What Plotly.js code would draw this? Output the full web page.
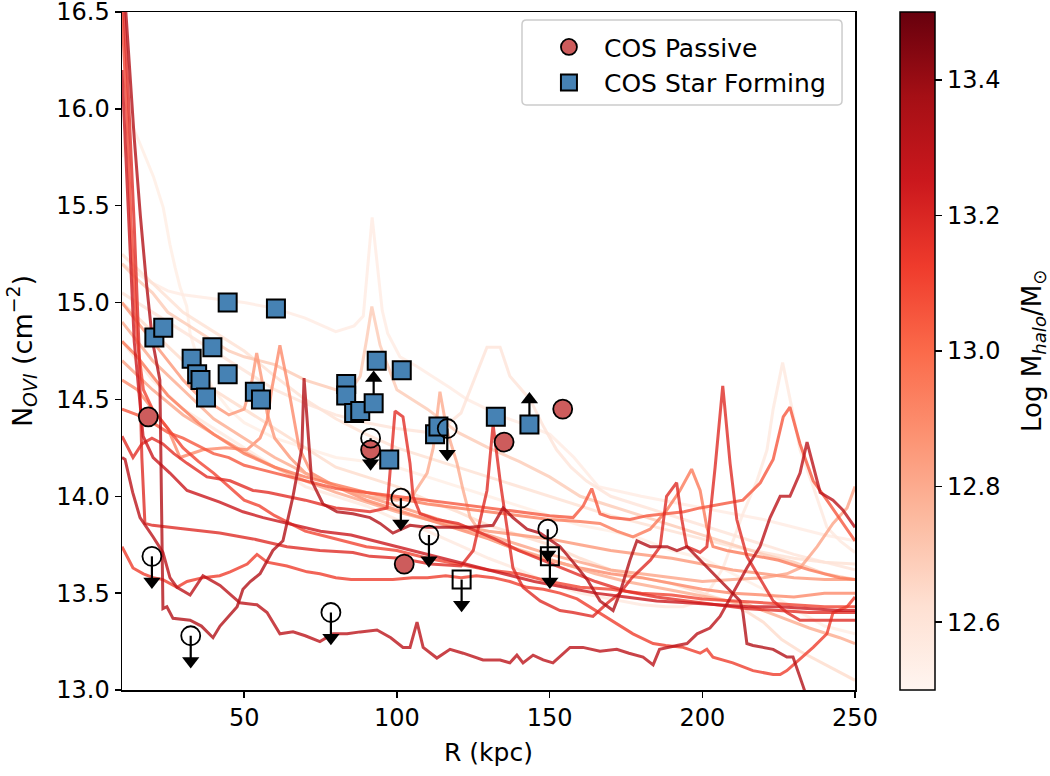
<!DOCTYPE html>
<html>
<head>
<meta charset="utf-8">
<script src="https://cdn.plot.ly/plotly-3.0.1.min.js"></script>
<style>
  html, body { margin: 0; padding: 0; background: #fff; }
  #chart { width: 1050px; height: 776px; }
</style>
</head>
<body>
<div id="chart"></div>
<script>
// ---- Simulated O VI column density profiles: [R (kpc), log N_OVI] ----
const profileA = [[10,16.8],[12,16.3],[14,15.85],[16,15.45],[18,15.1],[20,14.8],[22.4,14.6],[23.4,13.42],[24.7,13.43],[26.7,13.37],[32.3,13.36],[36,13.33],[39.8,13.27],[42.1,13.33],[45,13.38],[47.7,13.43],[49.6,13.52],[52,13.56],[55.2,13.6],[59.4,13.72],[62.7,13.77],[66,14.0],[68.9,14.25],[69.6,14.61],[72.1,14.08],[75.8,13.96],[80.4,13.92],[85.6,13.91],[91.2,13.89],[94.5,13.86],[98.7,13.81],[104.3,13.85],[109.9,13.84],[116.4,13.84],[124,13.84],[131.5,13.85],[134.8,13.94],[138,13.89],[142.6,13.83],[146.9,13.81],[153.4,13.74],[157.7,13.66],[162.3,13.57],[166.5,13.46],[170.8,13.41],[173,13.5],[176.3,13.67],[178.6,13.77],[182.9,13.74],[188.5,13.74],[191.7,13.72],[195,13.74],[199.3,13.67],[203.5,13.6],[208.1,13.53],[212.4,13.46],[213.3,13.4],[214.6,13.24],[216.6,13.23],[223.2,13.21],[227.7,13.17],[229.7,13.17],[233,13.02],[236,12.88]];
const profileB = [[10,14.2],[11,14.19],[13.5,14.02],[15.9,13.89],[20.2,13.79],[23.4,13.71],[25.7,13.58],[28,13.53],[32.3,13.49],[36.5,13.59],[42.1,13.54],[48.6,13.45],[54.2,13.44],[57.5,13.4],[61.7,13.29],[66,13.3],[70,13.28],[74.8,13.25],[79.1,13.29],[83.7,13.29],[88,13.3],[93.5,13.31],[98,13.27],[102,13.22],[104.3,13.22],[106.6,13.35],[108.6,13.22],[113.1,13.165],[117.4,13.21],[121.7,13.19],[128.2,13.155],[133.8,13.155],[137,13.14],[139.3,13.18],[141.3,13.14],[144.6,13.18],[147.9,13.155],[151.1,13.14],[156.7,13.22],[160.9,13.22],[166.5,13.2],[172,13.21],[176,13.19],[180.6,13.17],[183.9,13.13],[186,13.21],[191.7,13.23],[195,13.24],[198.3,13.29],[202.5,13.32],[205.8,13.38],[210,13.5],[214.6,13.63],[218.9,13.74],[222.2,13.89],[225.5,14.0],[228.7,14.0],[232,14.12],[234.3,14.28],[238.6,14.02],[242.8,13.98],[246,13.93],[250,13.84]];
const profileC = [[10,13.74],[13.6,13.63],[17,13.6],[20.2,13.58],[23.4,13.57],[28,13.53],[31.3,13.56],[36.5,13.58],[42,13.59],[45.4,13.61],[51,13.65],[54.2,13.7],[57.5,13.66],[64,13.64],[70.6,13.61],[74.8,13.6],[80,13.58],[85,13.57],[91,13.57],[98.7,13.57],[105,13.58],[110,13.58],[116,13.59],[121,13.58],[126,13.59],[131.5,13.58],[137,13.56],[142.6,13.53],[148,13.52],[153.4,13.5],[159,13.47],[164.2,13.42],[170,13.36],[177.3,13.29],[183.9,13.24],[188,13.23],[193.7,13.22],[199.3,13.19],[201.5,13.21],[203.5,13.17],[210,13.14],[216.6,13.1],[223.2,13.08],[225.5,13.08],[227.7,13.1],[232,13.16],[236.3,13.22],[240.8,13.29],[242.8,13.4],[247.4,13.43],[250,13.48]];
const profileD = [[10,14.31],[13.6,14.2],[16.5,14.27],[19.8,14.3],[23.4,14.27],[27,14.22],[31.3,14.17],[37.8,14.1],[45.4,14.08],[52.9,14.03],[58,14.02],[64,14.0],[70,13.98],[74.8,13.96],[80,13.94],[85.6,13.93],[91.2,13.92],[96.8,13.94],[99.4,14.44],[102,14.41],[104.3,14.17],[105.3,14.0],[107.6,13.91],[113,13.88],[120,13.86],[126,13.82],[132,13.78],[140,13.72],[148,13.67],[156,13.62],[165,13.56],[175,13.51],[185,13.48],[195,13.46],[205,13.44],[215,13.42],[225,13.41],[235,13.4],[245,13.4],[250,13.4]];
const profileE = [[10,16.7],[12,16.1],[14,15.4],[15.5,14.8],[16.5,14.2],[17.5,13.86],[20,13.85],[25,13.84],[31.3,13.83],[42,13.81],[52.9,13.78],[64,13.74],[74.8,13.72],[85.6,13.71],[91.2,13.69],[101,13.68],[111,13.65],[121,13.64],[125,13.72],[129.5,14.03],[131.5,14.37],[133.8,14.08],[136,13.83],[138,13.63],[141.3,13.53],[146.9,13.46],[153.4,13.41],[157.7,13.4],[164.2,13.38],[169,13.45],[173,13.5],[177,13.58],[183,13.67],[186.2,13.74],[188.3,14.0],[191.6,14.07],[193.3,13.88],[194.9,13.74],[199.3,13.71],[201.5,13.74],[204.2,14.15],[206.7,14.57],[209.1,14.17],[211.3,13.88],[214.6,13.69],[219,13.57],[223.2,13.46],[227.7,13.4],[232,13.36],[240,13.36],[250,13.36]];
const profileF = [[10,14.45],[15,14.42],[20,14.38],[25,14.33],[30,14.3],[35,14.26],[40,14.22],[45,14.2],[50,14.16],[55,14.14],[60,14.12],[70,14.08],[80,14.04],[90,14.02],[100,14.0],[110,13.98],[120,13.96],[130,13.94],[140,13.92],[150,13.9],[157.7,13.89],[161,13.95],[163.8,14.04],[166.5,13.91],[170,13.89],[176.3,13.88],[182,13.9],[188.4,13.91],[194,13.92],[199.3,13.94],[206,13.96],[213.3,13.98],[219,14.07],[223.2,14.19],[226.5,14.41],[228.7,14.46],[232,14.27],[236.3,14.08],[240.8,13.98],[245.1,13.88],[250,13.77]];
const profileG = [[10,14.8],[15,14.72],[20,14.62],[25,14.52],[30,14.45],[35,14.38],[40,14.32],[45,14.27],[50,14.22],[60,14.15],[70,14.1],[80,14.06],[90,14.02],[100,13.99],[110,13.96],[120,13.94],[130,13.92],[140,13.9],[150,13.88],[160,13.87],[166.5,13.86],[172,13.82],[177.3,13.79],[182.9,13.83],[188,13.92],[192.7,14.03],[196.5,14.14],[199.3,14.03],[201.5,13.84],[203.5,13.74],[208,13.72],[215,13.7],[225,13.67],[235,13.62],[245,13.58],[250,13.57]];
const profileH = [[10,16.5],[11.5,16.0],[13,15.4],[15,14.8],[17,14.55],[20,14.45],[25,14.35],[30,14.25],[35,14.18],[40,14.12],[45,14.05],[50,13.98],[55,13.95],[60,13.9],[65,13.86],[70,13.82],[75,13.8],[80,13.78],[90,13.74],[100,13.72],[110,13.68],[120,13.65],[130,13.62],[140,13.6],[150,13.56],[160,13.53],[170,13.52],[180,13.5],[190,13.49],[200,13.47],[210,13.46],[220,13.45],[230,13.44],[240,13.43],[250,13.43]];
const profileI = [[10,16.2],[12,15.5],[14,14.8],[16.9,14.31],[20.2,14.2],[25.7,14.12],[31.3,14.03],[42,13.97],[49.6,13.92],[56.2,13.89],[64,13.86],[75,13.82],[85,13.8],[95,13.76],[105,13.72],[115,13.68],[125,13.64],[135,13.6],[145,13.56],[155,13.53],[165,13.5],[175,13.48],[185,13.46],[195,13.45],[205,13.44],[215,13.43],[225,13.43],[235,13.42],[245,13.41],[250,13.41]];
const profileJ = [[10,15.75],[12.1,15.96],[15.9,15.82],[20.3,15.65],[23.5,15.49],[25.7,15.3],[27.4,15.18],[29,15.08],[31.2,14.98],[32.3,14.84],[35,14.7],[40,14.55],[45,14.45],[50,14.38],[60,14.3],[70,14.25],[80,14.2],[90,14.18],[100,14.15],[110,14.1],[120,14.05],[130,14.0],[140,13.95],[150,13.9],[160,13.85],[170,13.82],[180,13.78],[190,13.72],[200,13.68],[210,13.6],[220,13.52],[230,13.42],[240,13.33],[250,13.29]];
const profileK = [[10,15.2],[15,15.15],[20,15.1],[25,15.06],[30,15.04],[40,15.02],[50,15.0],[60,14.97],[70,14.92],[80,14.85],[86,14.88],[89,14.93],[91.9,15.44],[95.2,14.96],[97,14.84],[101,14.72],[106.6,14.67],[117.4,14.56],[123,14.5],[128.2,14.46],[134.8,14.41],[142,14.37],[150.1,14.32],[158,14.2],[166,14.05],[180,14.0],[200,13.94],[220,13.88],[240,13.8],[250,13.77]];
const profileL = [[10,15.2],[15,15.12],[20,15.05],[25,14.95],[30,14.9],[35,14.85],[40,14.8],[45,14.75],[50,14.72],[60,14.68],[70,14.6],[80,14.55],[85,14.55],[88,14.62],[90.1,14.81],[91.8,14.98],[94.5,14.78],[100,14.55],[110,14.45],[120,14.33],[130,14.25],[140,14.18],[150,14.1],[160,14.0],[170,13.95],[180,13.9],[190,13.85],[200,13.8],[210,13.75],[220,13.7],[230,13.66],[240,13.6],[250,13.57]];
const profileM = [[10,15.05],[20,14.95],[30,14.85],[40,14.75],[50,14.65],[60,14.55],[70,14.48],[80,14.42],[90,14.38],[100,14.35],[110,14.33],[115,14.35],[121,14.43],[124,14.55],[127,14.67],[129.5,14.77],[133.8,14.77],[137,14.62],[143.6,14.5],[148,14.36],[152.3,14.24],[157,14.15],[162,14.08],[170,14.0],[180,13.95],[190,13.9],[200,13.85],[210,13.8],[220,13.75],[230,13.7],[240,13.66],[250,13.62]];
const profileN = [[10,14.8],[20,14.6],[30,14.45],[40,14.35],[50,14.25],[60,14.15],[70,14.05],[80,14.0],[90,13.95],[100,13.88],[110,13.82],[120,13.75],[130,13.68],[140,13.62],[150,13.55],[160,13.5],[170,13.47],[180,13.44],[188,13.43],[193.7,13.43],[199.3,13.46],[202.5,13.52],[206.8,13.63],[210,13.77],[213.3,13.91],[217.9,14.08],[221.2,14.24],[223.2,14.45],[226.3,14.69],[229.4,14.45],[232,14.24],[236.3,14.05],[240.8,13.84],[245.1,13.77],[250,13.71]];
const profileO = [[10,15.0],[20,14.85],[30,14.7],[40,14.55],[50,14.45],[60,14.35],[70,14.25],[80,14.15],[90,14.1],[100,14.05],[110,13.98],[120,13.92],[130,13.85],[140,13.8],[150,13.75],[160,13.68],[170,13.62],[180,13.58],[190,13.55],[200,13.5],[210,13.45],[220,13.35],[226,13.26],[232,13.2],[238,13.15],[244,13.1],[250,13.05]];
const profileP = [[10,14.6],[15,14.55],[20,14.45],[25,14.35],[29,14.2],[36.5,14.24],[44,14.25],[50.9,14.24],[55.2,14.3],[57.5,14.39],[59,14.55],[61.7,14.78],[64,14.6],[66,14.43],[68,14.25],[72,14.12],[80,14.05],[90,13.98],[100,13.93],[110,13.88],[120,13.83],[130,13.78],[140,13.72],[150,13.67],[160,13.63],[170,13.6],[180,13.58],[190,13.55],[200,13.52],[210,13.5],[220,13.49],[230,13.48],[240,13.5],[250,13.5]];
const profileQ = [[10,15.0],[15,14.9],[20,14.8],[25,14.7],[30,14.6],[35,14.52],[40,14.47],[45,14.42],[50,14.45],[52.6,14.6],[54.1,14.74],[55.8,14.6],[57.5,14.43],[60,14.3],[65,14.2],[70,14.12],[80,14.05],[90,14.0],[100,13.95],[110,13.9],[120,13.85],[130,13.82],[140,13.8],[150,13.78],[160,13.75],[170,13.72],[180,13.7],[190,13.68],[200,13.65],[210,13.62],[220,13.6],[230,13.58],[240,13.57],[250,13.57]];
const profileR = [[10,14.9],[20,14.7],[30,14.55],[40,14.4],[50,14.3],[60,14.2],[70,14.12],[80,14.05],[90,14.0],[100,13.98],[105,14.0],[109.9,14.12],[111.9,14.25],[114.1,14.54],[116.4,14.34],[119.7,14.17],[121.7,14.03],[124,13.89],[128,13.8],[135,13.75],[145,13.7],[155,13.65],[165,13.6],[175,13.56],[185,13.53],[195,13.5],[205,13.47],[215,13.44],[225,13.38],[235,13.32],[245,13.27],[250,13.24]];
const profileS = [[10,14.7],[20,14.55],[30,14.42],[40,14.32],[50,14.23],[60,14.15],[70,14.08],[80,14.02],[90,13.97],[100,13.92],[110,13.88],[120,13.84],[130,13.8],[140,13.75],[150,13.7],[160,13.66],[170,13.62],[180,13.6],[190,13.58],[200,13.56],[210,13.57],[220,13.58],[227.7,13.6],[232,13.63],[237.6,13.74],[240.8,13.81],[242.8,13.86],[247.4,13.94],[250,14.05]];
const profileT = [[10,15.25],[20,15.1],[30,14.95],[40,14.85],[50,14.75],[60,14.62],[70,14.5],[80,14.4],[90,14.32],[100,14.25],[110,14.2],[120,14.15],[130,14.1],[140,14.05],[150,14.0],[160,13.95],[170,13.9],[180,13.86],[190,13.82],[200,13.78],[210,13.74],[220,13.71],[230,13.68],[240,13.66],[250,13.65]];

// Halo mass (log M_halo / M_sun) of each profile, same order as the list below
const profiles = [profileJ, profileK, profileN, profileT, profileM, profileO, profileL, profileS, profileQ, profileP, profileR, profileG, profileF, profileH, profileC, profileD, profileE, profileI, profileB, profileA];
const haloMass = [12.55, 12.56, 12.57, 12.62, 12.6, 12.64, 12.7, 12.82, 12.86, 12.9, 12.8, 12.95, 13.05, 13.1, 13.12, 13.17, 13.18, 13.25, 13.3, 13.33];

// ---- COS-Halos observations ----
const passiveR = [18.6, 91.4, 102.4, 135.1, 154.3];
const passiveN = [14.41, 14.24, 13.65, 14.28, 14.45];
const sfR = [20.6, 23.5, 32.8, 34.6, 35.7, 37.5, 39.6, 44.6, 44.6, 53.5, 55.5, 60.4, 83.4, 83.4, 86.0, 88.0, 92.4, 93.4, 97.5, 101.6, 112.5, 113.6, 132.4, 143.4];
const sfN = [14.82, 14.87, 14.71, 14.63, 14.60, 14.51, 14.77, 15.00, 14.63, 14.54, 14.50, 14.97, 14.58, 14.52, 14.43, 14.44, 14.48, 14.70, 14.19, 14.65, 14.32, 14.36, 14.41, 14.37];
// Upper limits (non-detections)
const passiveLimR = [19.8, 32.5, 78.4, 91.4, 101.3, 110.5, 116.5, 149.4];
const passiveLimN = [13.69, 13.28, 13.40, 14.30, 13.99, 13.80, 14.35, 13.83];
const sfLimR = [121.2, 150.1];
const sfLimN = [13.57, 13.69];
// Lower limits (saturated absorbers), indices into the star-forming sample
const sfLowerIdx = [16, 23];

const arrowLen = 0.13;
const yTicks = [13.0, 13.5, 14.0, 14.5, 15.0, 15.5, 16.0, 16.5];
const yTickText = ['13.0', '13.5', '14.0', '14.5', '15.0', '15.5', '16.0', '16.5'];
const xTicks = [50, 100, 150, 200, 250];
const massTicks = [12.6, 12.8, 13.0, 13.2, 13.4];
const legendLabels = ['COS Passive', 'COS Star Forming'];

// matplotlib "Reds"
const redsScale = [[0,'#fff5f0'],[0.125,'#fee0d2'],[0.25,'#fcbba1'],[0.375,'#fc9272'],[0.5,'#fb6a4a'],[0.625,'#ef3b2c'],[0.75,'#cb181d'],[0.875,'#a50f15'],[1,'#67000d']];
const massMin = 12.5, massMax = 13.5;

function hexToRgb(h) {
  return [parseInt(h.slice(1,3),16), parseInt(h.slice(3,5),16), parseInt(h.slice(5,7),16)];
}
function massColor(m, alpha) {
  let t = (m - massMin) / (massMax - massMin);
  t = Math.max(0, Math.min(1, t));
  for (let i = 0; i < redsScale.length - 1; i++) {
    const [t0, c0] = redsScale[i], [t1, c1] = redsScale[i+1];
    if (t >= t0 && t <= t1) {
      const f = (t - t0) / (t1 - t0);
      const a = hexToRgb(c0), b = hexToRgb(c1);
      const rgb = a.map((v, k) => Math.round(v + f * (b[k] - v)));
      return `rgba(${rgb[0]},${rgb[1]},${rgb[2]},${alpha})`;
    }
  }
  return 'rgba(0,0,0,1)';
}

const FONT = 'DejaVu Sans, sans-serif';
const traces = [];

profiles.forEach((p, i) => {
  traces.push({
    type: 'scatter', mode: 'lines',
    x: p.map(d => d[0]), y: p.map(d => d[1]),
    line: { color: massColor(haloMass[i], 0.8), width: 3 },
    hoverinfo: 'skip', showlegend: false
  });
});

// colour bar for halo mass
traces.push({
  type: 'scatter', mode: 'markers', x: [null], y: [null],
  marker: {
    color: [massMin], cmin: massMin, cmax: massMax, colorscale: redsScale, showscale: true,
    colorbar: {
      x: 1.0614, xanchor: 'left', xpad: 0, ypad: 0, y: 0.5, yanchor: 'middle',
      len: 1, lenmode: 'fraction', thickness: 35, thicknessmode: 'pixels',
      outlinecolor: '#000', outlinewidth: 1.5,
      tickvals: massTicks, tickformat: '.1f', tickprefix: '\u2009',
      ticks: 'outside', ticklen: 7, tickwidth: 1.5, tickcolor: '#000',
      tickfont: { family: FONT, size: 24, color: '#000' }
    }
  },
  hoverinfo: 'skip', showlegend: false
});

// arrow shafts
function shafts(rs, ns, dir) {
  const x = [], y = [];
  rs.forEach((r, i) => { x.push(r, r, null); y.push(ns[i], ns[i] + dir * arrowLen, null); });
  return { type: 'scatter', mode: 'lines', x, y, line: { color: '#000', width: 2.2 }, hoverinfo: 'skip', showlegend: false };
}
const lowR = sfLowerIdx.map(i => sfR[i]);
const lowN = sfLowerIdx.map(i => sfN[i]);
traces.push(shafts(passiveLimR.concat(sfLimR), passiveLimN.concat(sfLimN), -1));
traces.push(shafts(lowR, lowN, 1));

const passiveMarker = { symbol: 'circle', size: 19, color: '#cd5c5c', line: { color: '#000', width: 1.8 } };
const sfMarker = { symbol: 'square', size: 18, color: '#4682b4', line: { color: '#000', width: 2 } };

traces.push({
  type: 'scatter', mode: 'markers', x: passiveR, y: passiveN, name: legendLabels[0],
  marker: passiveMarker, hoverinfo: 'skip'
});
traces.push({
  type: 'scatter', mode: 'markers', x: sfR, y: sfN, name: legendLabels[1],
  marker: sfMarker, hoverinfo: 'skip'
});
traces.push({
  type: 'scatter', mode: 'markers', x: passiveLimR, y: passiveLimN,
  marker: { symbol: 'circle-open', size: 19, color: '#000', line: { width: 1.8 } },
  hoverinfo: 'skip', showlegend: false
});
traces.push({
  type: 'scatter', mode: 'markers', x: sfLimR, y: sfLimN,
  marker: { symbol: 'square-open', size: 18, color: '#000', line: { width: 2 } },
  hoverinfo: 'skip', showlegend: false
});
// arrow heads
traces.push({
  type: 'scatter', mode: 'markers',
  x: passiveLimR.concat(sfLimR), y: passiveLimN.concat(sfLimN).map(v => v - arrowLen),
  marker: { symbol: 'triangle-down', size: 15, color: '#000', line: { width: 0 } },
  hoverinfo: 'skip', showlegend: false
});
traces.push({
  type: 'scatter', mode: 'markers',
  x: lowR, y: lowN.map(v => v + arrowLen),
  marker: { symbol: 'triangle-up', size: 15, color: '#000', line: { width: 0 } },
  hoverinfo: 'skip', showlegend: false
});

const axisCommon = {
  showgrid: false, zeroline: false, showline: true, linecolor: '#000', linewidth: 1.5, mirror: true,
  ticks: 'outside', ticklen: 6, tickwidth: 1.5, tickcolor: '#000', ticklabeloverflow: 'allow',
  tickfont: { family: FONT, size: 24, color: '#000' }
};

// legend frame (rounded, light grey) in paper coordinates
const lx0 = 0.5457, lx1 = 0.9823, ly0 = 0.8628, ly1 = 0.9882, rx = 0.006, ry = 0.0065;
const legendFrame = `M${lx0 + rx},${ly1} L${lx1 - rx},${ly1} Q${lx1},${ly1} ${lx1},${ly1 - ry} L${lx1},${ly0 + ry} Q${lx1},${ly0} ${lx1 - rx},${ly0} L${lx0 + rx},${ly0} Q${lx0},${ly0} ${lx0},${ly0 + ry} L${lx0},${ly1 - ry} Q${lx0},${ly1} ${lx0 + rx},${ly1} Z`;

const layout = {
  width: 1050, height: 776,
  margin: { l: 122, r: 195, t: 12, b: 86 },
  paper_bgcolor: '#fff', plot_bgcolor: '#fff',
  font: { family: FONT, color: '#000' },
  xaxis: Object.assign({}, axisCommon, {
    range: [10, 250], tickvals: xTicks,
    title: { text: 'R (kpc)', font: { family: FONT, size: 25 }, standoff: 12 }
  }),
  yaxis: Object.assign({}, axisCommon, {
    range: [13, 16.5], tickvals: yTicks, ticktext: yTickText,
    title: { text: 'N<sub><i>OVI</i></sub> (cm<sup>−2</sup>)', font: { family: FONT, size: 27 }, standoff: 16 }
  }),
  legend: {
    x: 0.562, y: 0.982, xanchor: 'left', yanchor: 'top',
    bgcolor: 'rgba(0,0,0,0)', borderwidth: 0,
    font: { family: FONT, size: 25, color: '#000' }, itemwidth: 60
  },
  shapes: [{
    type: 'path', xref: 'paper', yref: 'paper', path: legendFrame, layer: 'above',
    fillcolor: 'rgba(255,255,255,0.8)', line: { color: '#cccccc', width: 1.5 }
  }],
  annotations: [{
    text: 'Log M<sub><i>halo</i></sub>/M<sub>⊙</sub>',
    xref: 'paper', yref: 'paper', x: 1.2428, y: 0.5, xanchor: 'center', yanchor: 'middle',
    textangle: -90, showarrow: false, font: { family: FONT, size: 26, color: '#000' }
  }],
  showlegend: true
};

Plotly.newPlot('chart', traces, layout, { displayModeBar: false, staticPlot: true });
</script>
</body>
</html>
